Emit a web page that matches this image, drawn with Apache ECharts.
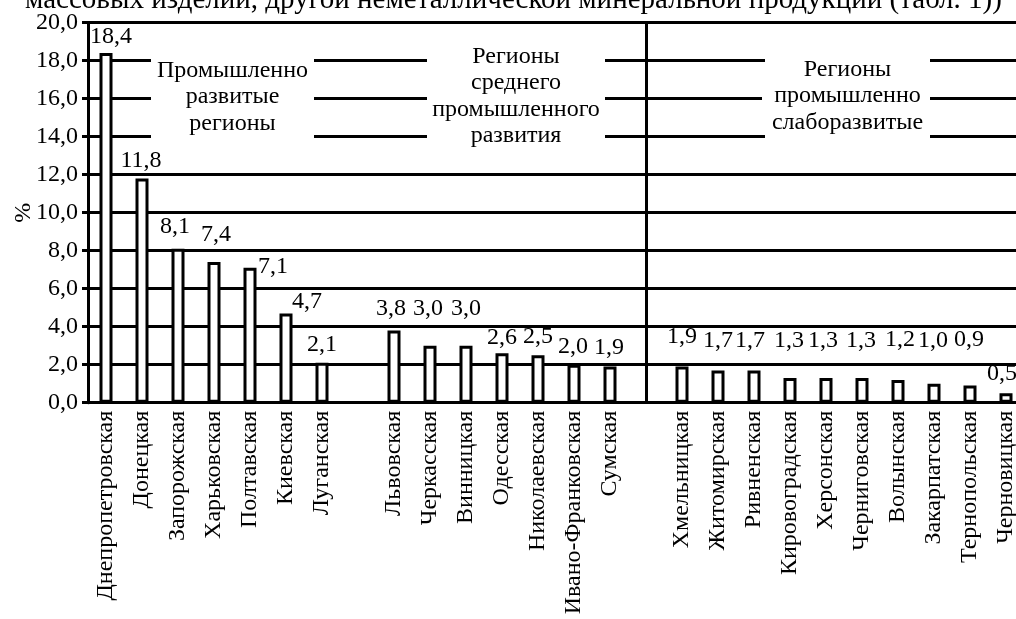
<!DOCTYPE html>
<html>
<head>
<meta charset="utf-8">
<script src="https://cdn.jsdelivr.net/npm/echarts@6/dist/echarts.min.js"></script>
<style>
  html, body { margin: 0; padding: 0; background: #fff; }
  #chart { width: 1016px; height: 619px; }
</style>
</head>
<body>
<div id="chart"></div>
<script>
// regions, two empty slots separate the three groups
var regions = [
  'Днепропетровская', 'Донецкая', 'Запорожская', 'Харьковская', 'Полтавская', 'Киевская', 'Луганская',
  ' ',
  'Львовская', 'Черкасская', 'Винницкая', 'Одесская', 'Николаевская', 'Ивано-Франковская', 'Сумская',
  '  ',
  'Хмельницкая', 'Житомирская', 'Ривненская', 'Кировоградская', 'Херсонская', 'Черниговская',
  'Волынская', 'Закарпатская', 'Тернопольская', 'Черновицкая'
]
var shares = [
  18.4, 11.8, 8.1, 7.4, 7.1, 4.7, 2.1,
  null,
  3.8, 3.0, 3.0, 2.6, 2.5, 2.0, 1.9,
  null,
  1.9, 1.7, 1.7, 1.3, 1.3, 1.3, 1.2, 1.0, 0.9, 0.5
]
var groupTitles = [
  'Промышленно\nразвитые\nрегионы',
  'Регионы\nсреднего\nпромышленного\nразвития',
  'Регионы\nпромышленно\nслаборазвитые'
]
var separatorAt = 15
var yMin = 0
var yMax = 20
var yStep = 2
var headText = 'массовых изделий, другой неметаллической минеральной продукции (табл. 1))'

var serif = "'Liberation Serif', 'Times New Roman', serif"
var fs = 24

// hand placement of the value labels, as in the original drawing [dx, gap above bar]
var labelShift = [
  [5, 8], [-1, 10], [-3, 14], [2, 19], [23, -7], [21, 4], [0, 10], [0, 0],
  [-3, 14], [-2, 29], [0, 29], [0, 8], [0, 10], [-1, 10], [-1, 11], [0, 0],
  [0, 22], [0, 22], [-4, 22], [-1, 29], [-3, 29], [-1, 29], [2, 32], [-1, 35], [-1, 38], [-4, 11]
]

function comma(v) {
  return Number(v).toFixed(1).replace('.', ',')
}

var chart = echarts.init(document.getElementById('chart'), null, { renderer: 'canvas' })

var barData = shares.map(function(v, i) {
  if (v === null) return null
  var s = labelShift[i]
  return {
    value: v,
    label: { offset: [s[0], -(s[1] - 4)] }
  }
})

chart.setOption({
  animation: false,
  title: {
    text: headText,
    left: 20,
    top: -19,
    textStyle: { fontFamily: serif, fontSize: 29, fontWeight: 'normal', color: '#000' }
  },
  grid: {
    left: 88,
    top: 22.7,
    width: 936,
    height: 380,
    outerBoundsMode: 'none'
  },
  xAxis: {
    type: 'category',
    data: regions,
    axisLine: { lineStyle: { color: '#000', width: 3 } },
    axisTick: { interval: 0, length: 6, lineStyle: { color: '#000', width: 3 } },
    axisLabel: {
      interval: 0,
      rotate: 90,
      margin: 8,
      color: '#000',
      fontFamily: serif,
      fontSize: fs
    },
    splitLine: { show: false }
  },
  yAxis: {
    type: 'value',
    min: yMin,
    max: yMax,
    interval: yStep,
    name: '%',
    nameLocation: 'middle',
    nameGap: 52,
    nameMoveOverlap: false,
    nameTextStyle: { fontFamily: serif, fontSize: fs, color: '#000' },
    axisLine: { show: true, lineStyle: { color: '#000', width: 3 } },
    axisTick: { show: true, length: 6, lineStyle: { color: '#000', width: 3 } },
    axisLabel: {
      margin: 10,
      color: '#000',
      fontFamily: serif,
      fontSize: fs,
      formatter: comma
    },
    splitLine: { lineStyle: { color: '#000', width: 3 } }
  },
  series: [
    {
      type: 'bar',
      data: barData,
      barWidth: 13,
      itemStyle: { color: '#fff', borderColor: '#000', borderWidth: 3 },
      label: {
        show: true,
        position: 'top',
        distance: 0,
        lineHeight: fs,
        color: '#000',
        fontFamily: serif,
        fontSize: fs,
        formatter: function(p) { return comma(p.value) }
      },
      markLine: {
        silent: true,
        symbol: 'none',
        label: { show: false },
        lineStyle: { color: '#000', width: 3, type: 'solid' },
        data: [{ xAxis: separatorAt }]
      }
    }
  ],
  graphic: [
    { type: 'rect', shape: { x: 151, y: 52, width: 163, height: 90 }, style: { fill: '#fff' }, z: 100 },
    { type: 'rect', shape: { x: 427, y: 42, width: 178, height: 102 }, style: { fill: '#fff' }, z: 100 },
    { type: 'rect', shape: { x: 765, y: 52, width: 165, height: 90 }, style: { fill: '#fff' }, z: 100 },
    { type: 'rect', shape: { x: 762, y: 94, width: 10, height: 8 }, style: { fill: '#fff' }, z: 100 },
    {
      type: 'text', x: 232.5, y: 97, z: 101,
      style: { text: groupTitles[0], fill: '#000', font: fs + 'px ' + serif, lineHeight: 26.5, align: 'center', verticalAlign: 'middle' }
    },
    {
      type: 'text', x: 516, y: 96, z: 101,
      style: { text: groupTitles[1], fill: '#000', font: fs + 'px ' + serif, lineHeight: 26.5, align: 'center', verticalAlign: 'middle' }
    },
    {
      type: 'text', x: 847.5, y: 96, z: 101,
      style: { text: groupTitles[2], fill: '#000', font: fs + 'px ' + serif, lineHeight: 26.5, align: 'center', verticalAlign: 'middle' }
    }
  ]
})
</script>
</body>
</html>
